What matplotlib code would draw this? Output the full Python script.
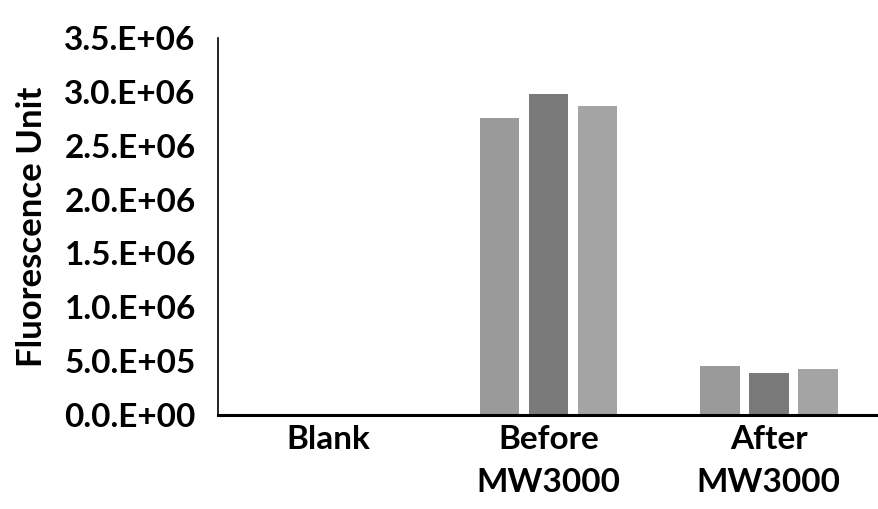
import numpy as np
import matplotlib.pyplot as plt
from matplotlib.ticker import FuncFormatter

# Daten
categories = ['Blank', 'Before\nMW3000', 'After\nMW3000']
rep1 = [6e3, 2.76e6, 4.5e5]
rep2 = [8e3, 2.98e6, 3.9e5]
rep3 = [5e3, 2.87e6, 4.3e5]
yticks = np.arange(0, 3.5e6 + 1, 5e5)

plt.rcParams['font.family'] = ['Lato', 'DejaVu Sans']

fig = plt.figure(figsize=(8.79, 5.09), dpi=100)
ax = fig.add_axes([0.248, 0.185, 0.752, 0.74])

x = np.arange(len(categories))
w = 0.18
off = 0.222
ax.bar(x - off, rep1, w, color='#9a9a9a')
ax.bar(x, rep2, w, color='#7a7a7a')
ax.bar(x + off, rep3, w, color='#a4a4a4')

ax.set_xlim(-0.5, 2.5)
ax.set_ylim(0, 3.5e6)
ax.set_yticks(yticks)

def fmt(v, pos):
    m, e = f'{v:.1E}'.split('E')
    return f'{m}.E{e}'

ax.yaxis.set_major_formatter(FuncFormatter(fmt))
ax.set_xticks(x)
ax.set_xticklabels(categories, fontsize=24, fontweight='bold', linespacing=1.6)
for lab in ax.get_yticklabels():
    lab.set_fontsize(24)
    lab.set_fontweight('bold')
ax.tick_params(axis='y', length=0, pad=16)
ax.tick_params(axis='x', length=0, pad=7)
ax.set_ylabel('Fluorescence Unit', fontsize=25, fontweight='bold', labelpad=12)

ax.spines['top'].set_visible(False)
ax.spines['right'].set_visible(False)
ax.spines['left'].set_linewidth(1.2)
ax.spines['bottom'].set_linewidth(2.2)

fig.savefig('out.png', dpi=100)
